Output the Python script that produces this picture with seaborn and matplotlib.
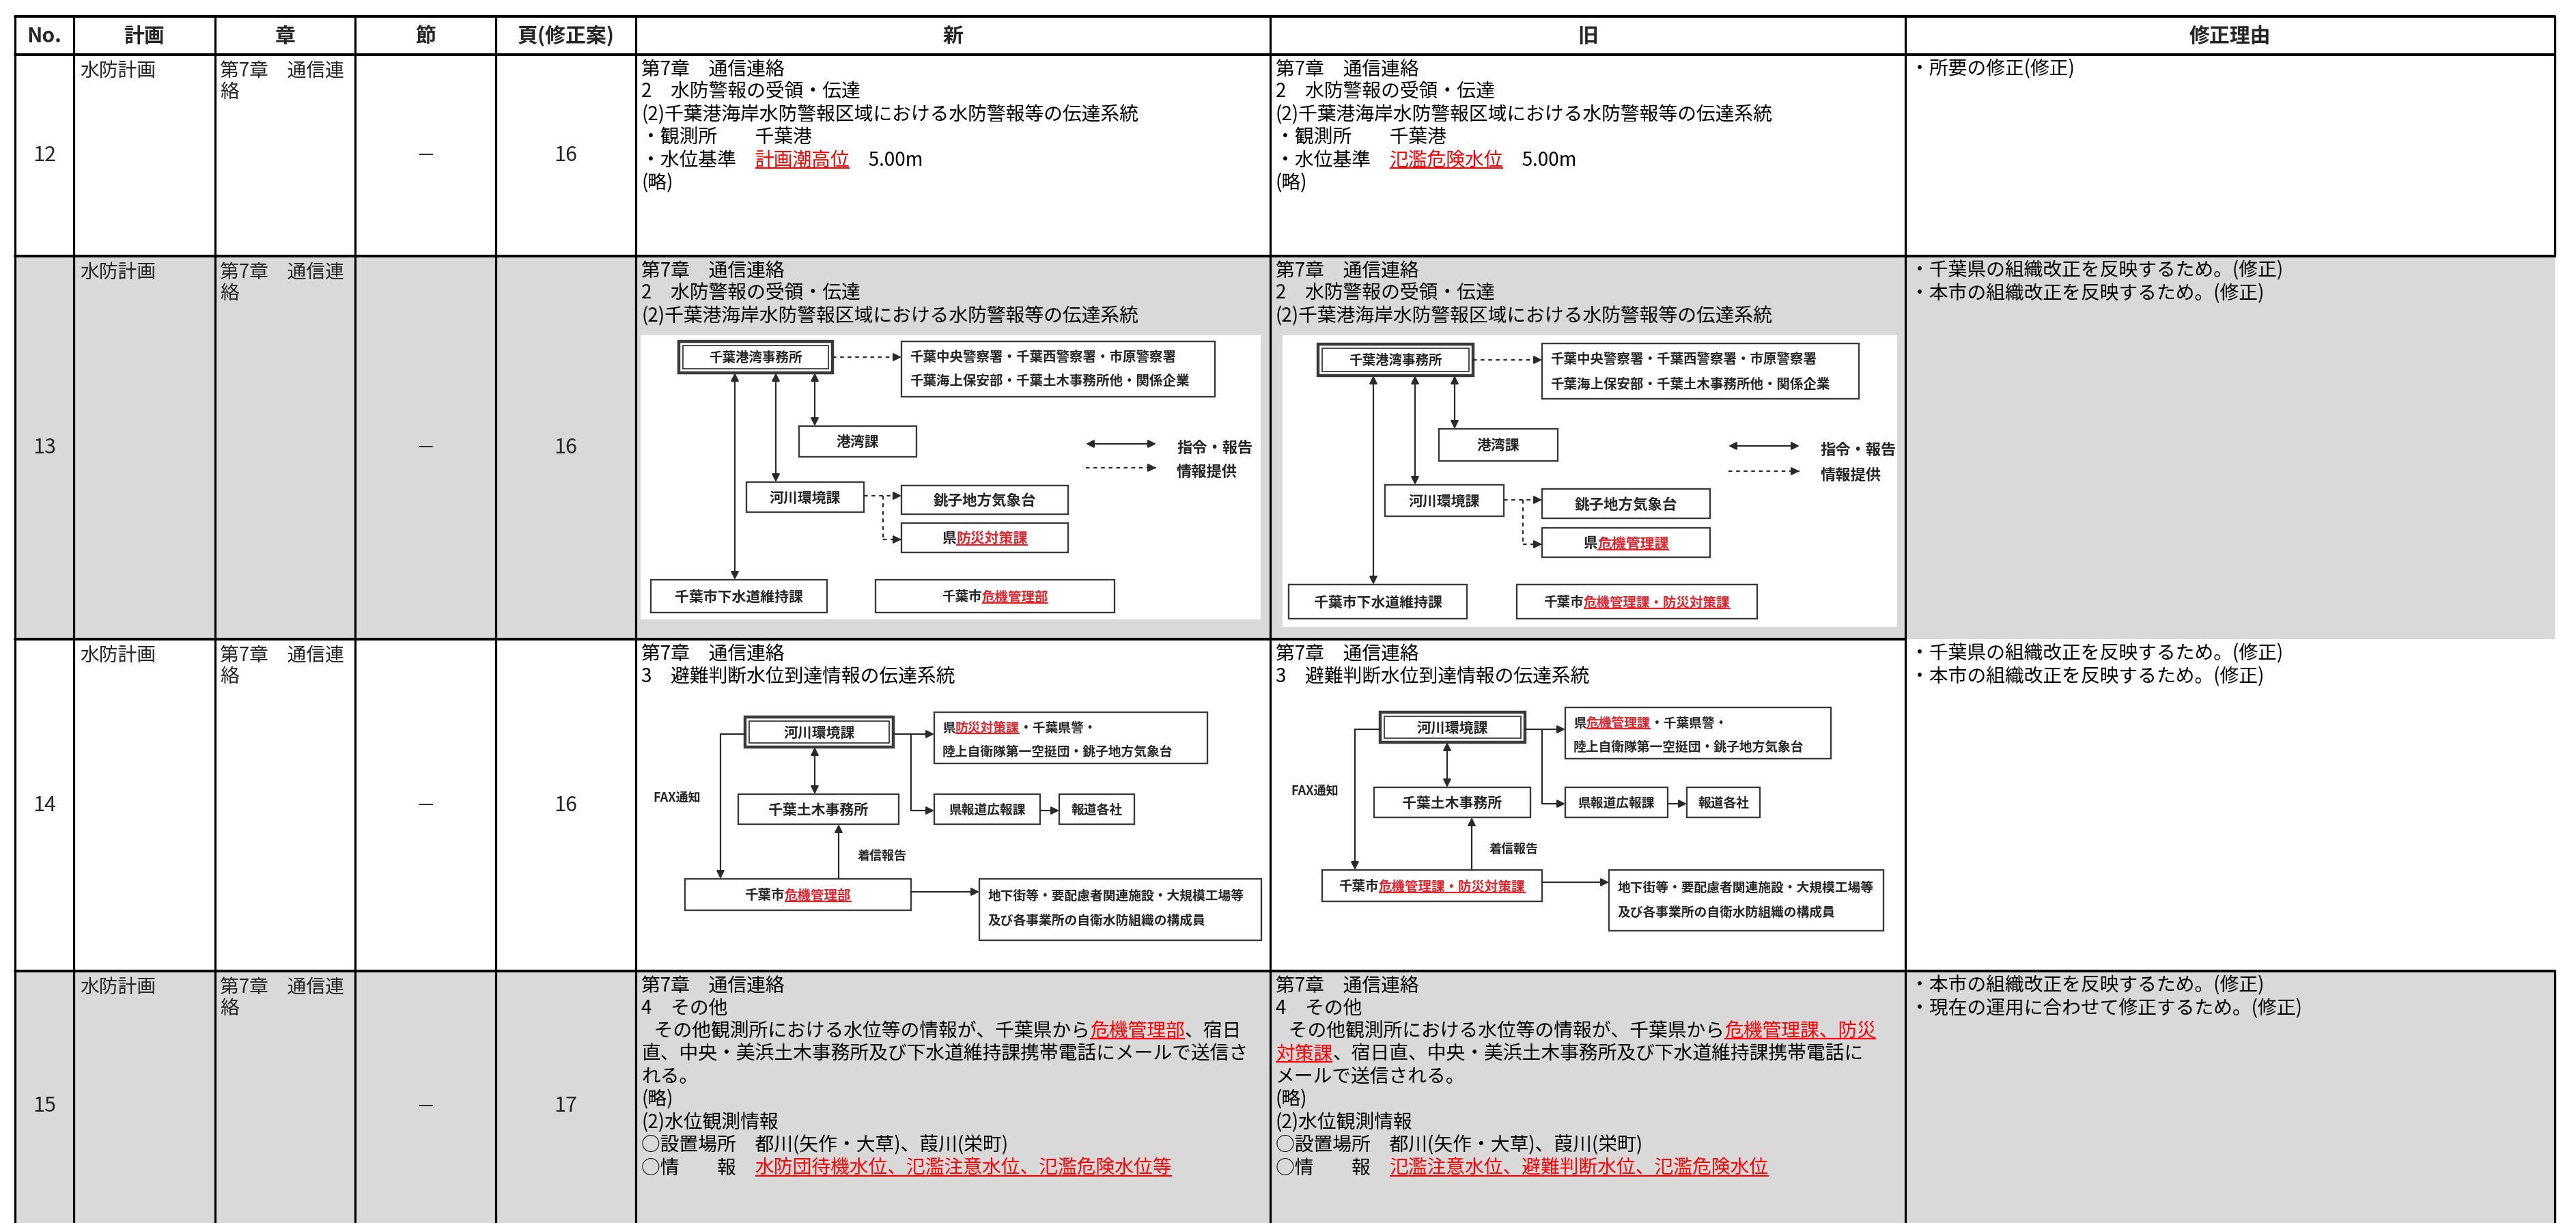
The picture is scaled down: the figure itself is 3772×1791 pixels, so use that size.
import matplotlib
matplotlib.use('Agg')
import math
import matplotlib.pyplot as plt
import seaborn as sns
from matplotlib.patches import Rectangle

sns.set_theme(style='white')
plt.rcParams['font.family'] = ['Noto Sans CJK JP', 'DejaVu Sans']

# ---------------- data (text content of the table) ----------------
headers = ['No.', '計画', '章', '節', '頁(修正案)', '新', '旧', '修正理由']
row_numbers = ['12', '13', '14', '15']
plan_names = ['水防計画', '水防計画', '水防計画', '水防計画']
chapter_lines = ['第7章　通信連', '絡']
section_marks = ['－', '－', '－', '－']
page_numbers = ['16', '16', '16', '17']
row_shaded = [False, True, False, True]

# [ ] marks red, underlined revisions
new_row12 = ['第7章　通信連絡', '2　水防警報の受領・伝達',
             '(2)千葉港海岸水防警報区域における水防警報等の伝達系統',
             '・観測所　　千葉港', '・水位基準　[計画潮高位]　5.00m', '(略)']
old_row12 = ['第7章　通信連絡', '2　水防警報の受領・伝達',
             '(2)千葉港海岸水防警報区域における水防警報等の伝達系統',
             '・観測所　　千葉港', '・水位基準　[氾濫危険水位]　5.00m', '(略)']
new_row13 = ['第7章　通信連絡', '2　水防警報の受領・伝達',
             '(2)千葉港海岸水防警報区域における水防警報等の伝達系統']
old_row13 = list(new_row13)
new_row14 = ['第7章　通信連絡', '3　避難判断水位到達情報の伝達系統']
old_row14 = list(new_row14)
new_row15 = ['第7章　通信連絡', '4　その他',
             '   その他観測所における水位等の情報が、千葉県から[危機管理部]、宿日',
             '直、中央・美浜土木事務所及び下水道維持課携帯電話にメールで送信さ',
             'れる。', '(略)', '(2)水位観測情報',
             '○設置場所　都川(矢作・大草)、葭川(栄町)',
             '○情　　報　[水防団待機水位、氾濫注意水位、氾濫危険水位等]']
old_row15 = ['第7章　通信連絡', '4　その他',
             '   その他観測所における水位等の情報が、千葉県から[危機管理課、防災]',
             '[対策課]、宿日直、中央・美浜土木事務所及び下水道維持課携帯電話に',
             'メールで送信される。', '(略)', '(2)水位観測情報',
             '○設置場所　都川(矢作・大草)、葭川(栄町)',
             '○情　　報　[氾濫注意水位、避難判断水位、氾濫危険水位]']
reason_row12 = ['・所要の修正(修正)']
reason_row13 = ['・千葉県の組織改正を反映するため。(修正)', '・本市の組織改正を反映するため。(修正)']
reason_row14 = ['・千葉県の組織改正を反映するため。(修正)', '・本市の組織改正を反映するため。(修正)']
reason_row15 = ['・本市の組織改正を反映するため。(修正)', '・現在の運用に合わせて修正するため。(修正)']

# diagram labels (row 13: 水防警報 伝達系統)
d13_port = '千葉港湾事務所'
d13_police = ['千葉中央警察署・千葉西警察署・市原警察署', '千葉海上保安部・千葉土木事務所他・関係企業']
d13_harbor = '港湾課'
d13_river = '河川環境課'
d13_met = '銚子地方気象台'
d13_pref_new = '県[防災対策課]'
d13_pref_old = '県[危機管理課]'
d13_sewer = '千葉市下水道維持課'
d13_city_new = '千葉市[危機管理部]'
d13_city_old = '千葉市[危機管理課・防災対策課]'
legend_labels = ['指令・報告', '情報提供']
# diagram labels (row 14: 避難判断水位到達情報 伝達系統)
d14_river = '河川環境課'
d14_pref_new = ['県[防災対策課]・千葉県警・', '陸上自衛隊第一空挺団・銚子地方気象台']
d14_pref_old = ['県[危機管理課]・千葉県警・', '陸上自衛隊第一空挺団・銚子地方気象台']
d14_doboku = '千葉土木事務所'
d14_press = '県報道広報課'
d14_media = '報道各社'
d14_city_new = '千葉市[危機管理部]'
d14_city_old = '千葉市[危機管理課・防災対策課]'
d14_facility = ['地下街等・要配慮者関連施設・大規模工場等', '及び各事業所の自衛水防組織の構成員']
d14_report = '着信報告'
d14_fax = 'FAX通知'

# ---------------- figure ----------------
W, H = 3772, 1791
fig = plt.figure(figsize=(W / 100, H / 100), dpi=100)
ax = fig.add_axes([0, 0, 1, 1])
ax.set_xlim(0, W)
ax.set_ylim(H, 0)
ax.axis('off')
renderer = fig.canvas.get_renderer()
PX = 100 / 72.0
GRAY = '#d9d9d9'
RED = '#ff0000'
DRED = '#e3242b'
DC = '#2a2a2a'

_cache = {}


def tw(s, fs, weight='normal'):
    key = (s, fs, weight)
    if key in _cache:
        return _cache[key]
    if not s:
        return 0.0
    t = ax.text(0, 0, s, fontsize=fs, fontweight=weight)
    w = t.get_window_extent(renderer).width
    t.remove()
    _cache[key] = w
    return w


def parse(line):
    segs, buf, red = [], '', False
    for ch in line:
        if ch == '[':
            if buf:
                segs.append((buf, red))
            buf, red = '', True
        elif ch == ']':
            if buf:
                segs.append((buf, red))
            buf, red = '', False
        else:
            buf += ch
    if buf:
        segs.append((buf, red))
    return segs


def rich(x, yc, line, fs, weight='normal', ha='left', color='black', red=RED, ul_lw=1.6, z=6):
    segs = parse(line)
    full = ''.join(s for s, _ in segs)
    if ha == 'center':
        x = x - tw(full, fs, weight) / 2
    base = yc + 0.38 * fs * PX
    sent = tw('口', fs, weight)
    prefix = ''
    for s, r in segs:
        off = (tw(prefix + '口', fs, weight) - sent) if prefix else 0.0
        ax.text(x + off, base, s, fontsize=fs, fontweight=weight,
                color=red if r else color, ha='left', va='baseline', zorder=z)
        if r:
            w = tw(s, fs, weight)
            uy = base + 0.11 * fs * PX
            ax.plot([x + off, x + off + w], [uy, uy], color=red, lw=ul_lw,
                    solid_capstyle='butt', zorder=z)
        prefix += s


# ---------------- table grid ----------------
xs = [22, 108, 315, 520, 726, 931, 1860, 2790, 3741]
ys = [24, 80, 375, 936, 1422, 1800]

for i, sh in enumerate(row_shaded):
    if sh:
        ax.add_patch(Rectangle((xs[0], ys[i + 1]), xs[-1] - xs[0], ys[i + 2] - ys[i + 1],
                               facecolor=GRAY, edgecolor='none', zorder=0))

LW_H, LW_V = 2.8, 2.3
ax.plot([xs[0], xs[-1]], [ys[0], ys[0]], color='black', lw=LW_H, zorder=8)
ax.plot([xs[0], xs[-1]], [ys[1], ys[1]], color='black', lw=LW_H, zorder=8)
ax.plot([xs[0], xs[-1]], [ys[2], ys[2]], color='black', lw=LW_H, zorder=8)
ax.plot([xs[0], xs[7]], [ys[3], ys[3]], color='black', lw=LW_H, zorder=8)
ax.plot([xs[0], xs[-1]], [ys[4], ys[4]], color='black', lw=LW_H, zorder=8)
for x in xs[:-1]:
    ax.plot([x, x], [ys[0], H + 5], color='black', lw=LW_V, zorder=8)
ax.plot([xs[-1], xs[-1]], [ys[0], ys[2]], color='black', lw=LW_V, zorder=8)
ax.plot([xs[-1], xs[-1]], [ys[4], H + 5], color='black', lw=LW_V, zorder=8)

# header
for j, h in enumerate(headers):
    ax.text((xs[j] + xs[j + 1]) / 2, 53, h, fontsize=21.5, fontweight='bold',
            ha='center', va='center', zorder=6)

FS = 20
PITCH = 33.4
new_cols = [new_row12, new_row13, new_row14, new_row15]
old_cols = [old_row12, old_row13, old_row14, old_row15]
reasons = [reason_row12, reason_row13, reason_row14, reason_row15]

for i in range(4):
    top, bot = ys[i + 1], ys[i + 2]
    mid = (top + bot) / 2 if i < 3 else 1620
    ax.text((xs[0] + xs[1]) / 2, mid, row_numbers[i], fontsize=22, ha='center', va='center', zorder=6)
    ax.text(117, top + 21 + 0.38 * FS * PX, plan_names[i], fontsize=FS, va='baseline', zorder=6)
    for k, cl in enumerate(chapter_lines):
        ax.text(322, top + 21 + 31 * k + 0.38 * FS * PX, cl, fontsize=FS, va='baseline', zorder=6)
    ax.text((xs[3] + xs[4]) / 2, mid, section_marks[i], fontsize=FS, ha='center', va='center', zorder=6)
    ax.text((xs[4] + xs[5]) / 2, mid, page_numbers[i], fontsize=22, ha='center', va='center', zorder=6)
    for k, line in enumerate(new_cols[i]):
        rich(939, top + 19 + PITCH * k, line, FS)
    for k, line in enumerate(old_cols[i]):
        rich(1868, top + 19 + PITCH * k, line, FS)
    for k, line in enumerate(reasons[i]):
        rich(2797, top + 19 + PITCH * k, line, FS)


# ---------------- diagram helpers ----------------
def dbox(b, double=False):
    x0, y0, x1, y1 = b
    ax.add_patch(Rectangle((x0, y0), x1 - x0, y1 - y0, facecolor='white', edgecolor='#3a3a3a',
                           lw=3.2 if double else 1.7, zorder=3))
    if double:
        ax.add_patch(Rectangle((x0 + 6, y0 + 6), x1 - x0 - 12, y1 - y0 - 12, fill=False,
                               edgecolor='#3a3a3a', lw=1.3, zorder=3))


def bc(b):
    return ((b[0] + b[2]) / 2, (b[1] + b[3]) / 2)


def arrow(p1, p2, style='-|>', dashed=False):
    ap = dict(arrowstyle=style, color=DC, lw=1.6, mutation_scale=17, shrinkA=0, shrinkB=0)
    if dashed:
        ax.plot([p1[0], p2[0]], [p1[1], p2[1]], color=DC, lw=1.6, ls=(0, (2.5, 2.5)), zorder=4)
        dx, dy = p2[0] - p1[0], p2[1] - p1[1]
        L = math.hypot(dx, dy)
        ax.annotate('', xy=p2, xytext=(p2[0] - dx / L * 12, p2[1] - dy / L * 12),
                    arrowprops=ap, zorder=4)
    else:
        ax.annotate('', xy=p2, xytext=p1, arrowprops=ap, zorder=4)


def seg(pts, dashed=False):
    ax.plot([p[0] for p in pts], [p[1] for p in pts], color=DC, lw=1.6,
            ls=(0, (2.5, 2.5)) if dashed else '-', zorder=4)


DFS = 14
DW = 'bold'
DTC = '#262626'

# ---------------- row 13 diagrams ----------------
L13 = {
    'new': dict(img=(938, 491, 1846, 907), A=(994, 500, 1219, 546), B=(1320, 500, 1779, 581),
                Bl=(522, 557), C=(1170, 624, 1342, 669), D=(1093, 706, 1265, 750),
                E=(1320, 711, 1564, 753), F=(1320, 766, 1564, 809), G=(953, 849, 1211, 897),
                H=(1282, 849, 1632, 897), vx=(1076, 1136, 1193), yDE=726, bx=1293, yF=790,
                leg=(1590, 1693, 1723), legy=(650, 685), pref=d13_pref_new, city=d13_city_new),
    'old': dict(img=(1878, 491, 2778, 918), A=(1930, 504, 2157, 550), B=(2258, 503, 2722, 584),
                Bl=(525, 562), C=(2107, 628, 2281, 675), D=(2028, 710, 2202, 756),
                E=(2258, 716, 2504, 759), F=(2258, 773, 2504, 816), G=(1887, 856, 2148, 906),
                H=(2221, 856, 2573, 906), vx=(2011, 2072, 2130), yDE=732, bx=2230, yF=797,
                leg=(2531, 2635, 2666), legy=(653, 690), pref=d13_pref_old, city=d13_city_old),
}
for key, L in L13.items():
    x0, y0, x1, y1 = L['img']
    ax.add_patch(Rectangle((x0, y0), x1 - x0, y1 - y0, facecolor='white', edgecolor='none', zorder=1))
    dbox(L['A'], double=True)
    for k in 'BCDEFGH':
        dbox(L[k])
    rich(bc(L['A'])[0], bc(L['A'])[1], d13_port, DFS, DW, 'center', DTC, DRED)
    for yy, t in zip(L['Bl'], d13_police):
        rich(L['B'][0] + 12, yy, t, DFS, DW, 'left', DTC, DRED)
    rich(*bc(L['C']), d13_harbor, DFS + 1, DW, 'center', DTC, DRED)
    rich(*bc(L['D']), d13_river, DFS + 1, DW, 'center', DTC, DRED)
    rich(*bc(L['E']), d13_met, DFS + 1.5, DW, 'center', DTC, DRED)
    rich(*bc(L['F']), L['pref'], DFS + 1, DW, 'center', DTC, DRED)
    rich(*bc(L['G']), d13_sewer, DFS + 1, DW, 'center', DTC, DRED)
    rich(*bc(L['H']), L['city'], DFS, DW, 'center', DTC, DRED)
    # arrows
    ay = bc(L['A'])[1]
    arrow((L['A'][2], ay), (L['B'][0], ay), dashed=True)
    arrow((L['vx'][0], L['A'][3]), (L['vx'][0], L['G'][1]), style='<|-|>')
    arrow((L['vx'][1], L['A'][3]), (L['vx'][1], L['D'][1]), style='<|-|>')
    arrow((L['vx'][2], L['A'][3]), (L['vx'][2], L['C'][1]), style='<|-|>')
    arrow((L['D'][2], L['yDE']), (L['E'][0], L['yDE']), dashed=True)
    seg([(L['bx'], L['yDE']), (L['bx'], L['yF'])], dashed=True)
    arrow((L['bx'], L['yF']), (L['F'][0], L['yF']), dashed=True)
    lx0, lx1, lt = L['leg']
    arrow((lx0, L['legy'][0]), (lx1, L['legy'][0]), style='<|-|>')
    arrow((lx0, L['legy'][1]), (lx1, L['legy'][1]), dashed=True)
    rich(lt, L['legy'][0] + 4, legend_labels[0], 16, DW, 'left', DTC, DRED)
    rich(lt, L['legy'][1] + 5, legend_labels[1], 16, DW, 'left', DTC, DRED)

# ---------------- row 14 diagrams ----------------
L14 = {
    'new': dict(A=(1091, 1050, 1308, 1094), B=(1368, 1043, 1768, 1118), Bl=(1065, 1100),
                C=(1081, 1163, 1316, 1207), D=(1368, 1163, 1523, 1207), E=(1551, 1163, 1661, 1207),
                F=(1003, 1287, 1334, 1333), G=(1434, 1287, 1847, 1377), Gl=(1311, 1347),
                yAB=1075, bx=1334, yD=1187, lx=1055, acx=1193, fcx=1228, rep=(1256, 1252),
                yFG=1306, fax=(956, 1167), pref=d14_pref_new, city=d14_city_new),
    'old': dict(A=(2021, 1043, 2233, 1087), B=(2292, 1036, 2681, 1111), Bl=(1058, 1093),
                C=(2012, 1153, 2241, 1197), D=(2292, 1153, 2442, 1197), E=(2470, 1153, 2577, 1197),
                F=(1936, 1274, 2258, 1320), G=(2356, 1274, 2758, 1363), Gl=(1298, 1334),
                yAB=1068, bx=2258, yD=1177, lx=1984, acx=2119, fcx=2155, rep=(2181, 1242),
                yFG=1292, fax=(1890, 1157), pref=d14_pref_old, city=d14_city_old),
}
for key, L in L14.items():
    dbox(L['A'], double=True)
    for k in 'BCDEFG':
        dbox(L[k])
    rich(*bc(L['A']), d14_river, DFS + 1, DW, 'center', DTC, DRED)
    for yy, t in zip(L['Bl'], L['pref']):
        rich(L['B'][0] + 12, yy, t, DFS - 0.5, DW, 'left', DTC, DRED)
    rich(*bc(L['C']), d14_doboku, DFS + 1, DW, 'center', DTC, DRED)
    rich(*bc(L['D']), d14_press, DFS - 0.5, DW, 'center', DTC, DRED)
    rich(*bc(L['E']), d14_media, DFS - 0.5, DW, 'center', DTC, DRED)
    rich(*bc(L['F']), L['city'], DFS, DW, 'center', DTC, DRED)
    for yy, t in zip(L['Gl'], d14_facility):
        rich(L['G'][0] + 13, yy, t, DFS - 0.5, DW, 'left', DTC, DRED)
    # arrows
    arrow((L['A'][2], L['yAB']), (L['B'][0], L['yAB']))
    seg([(L['bx'], L['yAB']), (L['bx'], L['yD'])])
    arrow((L['bx'], L['yD']), (L['D'][0], L['yD']))
    arrow((L['D'][2], L['yD']), (L['E'][0], L['yD']))
    seg([(L['A'][0], L['yAB']), (L['lx'], L['yAB'])])
    arrow((L['lx'], L['yAB']), (L['lx'], L['F'][1]))
    arrow((L['acx'], L['A'][3]), (L['acx'], L['C'][1]), style='<|-|>')
    arrow((L['fcx'], L['F'][1]), (L['fcx'], L['C'][3]))
    arrow((L['F'][2], L['yFG']), (L['G'][0], L['yFG']))
    rich(L['rep'][0], L['rep'][1], d14_report, DFS - 1, DW, 'left', DTC, DRED)
    rich(L['fax'][0], L['fax'][1], d14_fax, DFS - 1, DW, 'left', DTC, DRED)

fig.savefig('out.png', dpi=100, facecolor='white')
